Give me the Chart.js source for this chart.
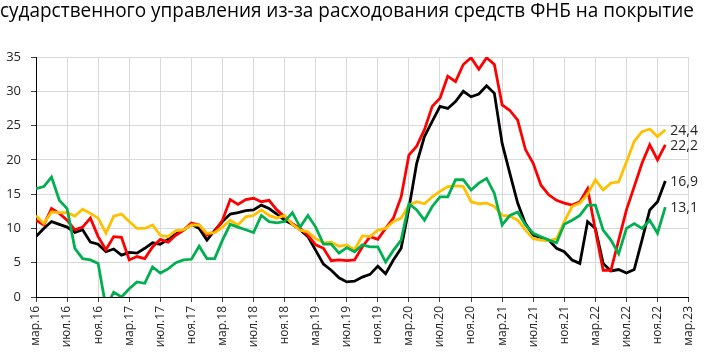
<!DOCTYPE html>
<html>
<head>
<meta charset="utf-8">
<script src="https://cdn.jsdelivr.net/npm/chart.js@4"></script>
<style>
  body { margin: 0; background: #fff; }
  #wrap { width: 707px; height: 353px; position: relative; }
</style>
</head>
<body>
<div id="wrap"><canvas id="chart"></canvas></div>
<script>
// months from мар.16 (index 0) to мар.23 (index 84), axis labels every 4 months
const tickLabels = ['мар.16', 'июл.16', 'ноя.16', 'мар.17', 'июл.17', 'ноя.17', 'мар.18', 'июл.18',
  'ноя.18', 'мар.19', 'июл.19', 'ноя.19', 'мар.20', 'июл.20', 'ноя.20', 'мар.21', 'июл.21',
  'ноя.21', 'мар.22', 'июл.22', 'ноя.22', 'мар.23'];

// monthly values, мар.16 .. дек.22
const blackSeries = [8.8, 10.0, 11.0, 10.6, 10.2, 9.4, 9.8, 8.0, 7.7, 6.6,
  7.0, 6.1, 6.5, 6.4, 7.1, 7.9, 7.7, 8.4, 9.2, 9.75,
  10.6, 10.0, 8.3, 9.7, 11.0, 12.1, 12.3, 12.6, 12.7, 13.4,
  12.9, 12.1, 11.2, 10.6, 9.8, 8.8, 6.8, 4.8, 3.9, 2.8,
  2.2, 2.3, 2.9, 3.3, 4.5, 3.4, 5.4, 7.1, 12.9, 19.5,
  23.4, 25.6, 27.8, 27.5, 28.5, 30.0, 29.2, 29.6, 30.8, 29.7,
  22.4, 18.0, 13.7, 10.7, 9.0, 8.7, 8.3, 7.1, 6.6, 5.4,
  4.9, 11.0, 10.0, 4.9, 3.8, 4.0, 3.5, 4.0, 8.3, 12.7,
  13.9, 16.9];
const redSeries = [11.2, 10.5, 12.9, 12.2, 11.2, 9.8, 10.2, 11.5, 8.8, 6.9,
  8.8, 8.7, 5.4, 5.9, 5.6, 7.3, 8.4, 8.0, 9.0, 9.75,
  10.8, 10.5, 9.0, 9.5, 11.2, 14.2, 13.5, 14.2, 14.4, 13.9,
  14.1, 12.7, 11.7, 10.7, 10.0, 9.0, 7.6, 7.1, 5.3, 5.4,
  5.3, 5.4, 7.3, 8.8, 8.4, 10.0, 11.5, 14.6, 20.7, 22.0,
  24.4, 27.8, 29.0, 32.2, 31.4, 33.9, 34.9, 33.2, 34.9, 33.9,
  28.0, 27.2, 25.8, 21.5, 19.5, 16.3, 14.9, 14.1, 13.7, 13.4,
  13.9, 15.8, 9.75, 3.9, 3.9, 8.3, 12.7, 16.1, 19.5, 22.2,
  20.0, 22.2];
const yellowSeries = [11.9, 10.7, 12.4, 12.3, 12.3, 11.8, 12.8, 12.2, 11.5, 9.3,
  11.8, 12.1, 11.0, 10.0, 10.0, 10.5, 9.0, 8.8, 9.7, 9.8,
  10.5, 10.5, 9.3, 9.4, 10.2, 11.2, 10.5, 11.7, 11.9, 12.7,
  11.9, 11.5, 11.9, 10.6, 9.75, 9.5, 8.5, 7.9, 8.0, 7.4,
  7.6, 6.9, 8.9, 8.8, 9.75, 10.0, 11.0, 11.5, 13.4, 13.9,
  13.6, 14.6, 15.4, 16.1, 16.2, 16.1, 13.9, 13.6, 13.7, 13.2,
  11.9, 11.8, 11.2, 9.75, 8.5, 8.3, 8.2, 8.5, 11.0, 13.2,
  13.7, 15.0, 17.1, 15.6, 16.6, 16.8, 19.7, 22.7, 24.1, 24.5,
  23.4, 24.4];
const greenSeries = [15.8, 16.1, 17.5, 14.1, 12.9, 7.1, 5.6, 5.4, 4.9, -1.5,
  0.7, 0.0, 1.2, 2.2, 2.0, 4.4, 3.5, 4.1, 5.0, 5.4,
  5.5, 7.4, 5.6, 5.6, 8.3, 10.6, 10.2, 9.8, 9.4, 11.9,
  11.0, 10.8, 11.0, 12.3, 10.2, 11.9, 10.2, 7.7, 7.7, 6.4,
  7.2, 6.6, 7.6, 7.3, 7.3, 5.1, 6.8, 8.3, 13.6, 12.7,
  11.2, 13.2, 14.6, 14.6, 17.1, 17.1, 15.6, 16.6, 17.3, 15.1,
  10.5, 11.9, 12.4, 10.5, 9.3, 8.8, 8.3, 7.9, 10.6, 11.2,
  11.9, 13.4, 13.4, 9.75, 8.3, 6.3, 10.0, 10.7, 10.0, 11.2,
  9.3, 13.1];

const titleText = 'сударственного управления из-за расходования средств ФНБ на покрытие';

function toPoints(arr) {
  return arr.map((v, i) => ({ x: i, y: v }));
}

function line(data, color, order) {
  return {
    data: toPoints(data),
    borderColor: color,
    backgroundColor: color,
    borderWidth: 2.8,
    pointRadius: 0,
    tension: 0,
    order: order
  };
}

// value labels at the end of each line
const endLabels = {
  id: 'endLabels',
  afterDatasetsDraw(chart) {
    const ctx = chart.ctx;
    ctx.save();
    ctx.font = '14px "Open Sans"';
    ctx.fillStyle = '#262626';
    ctx.textBaseline = 'middle';
    chart.data.datasets.forEach((ds, i) => {
      const meta = chart.getDatasetMeta(i);
      const pt = meta.data[meta.data.length - 1];
      const v = ds.data[ds.data.length - 1].y;
      ctx.fillText(v.toFixed(1).replace('.', ','), pt.x + 5, pt.y + 1);
    });
    ctx.restore();
  }
};

new Chart(document.getElementById('chart'), {
  type: 'line',
  data: {
    datasets: [
      line(blackSeries, '#000000', 3),
      line(redSeries, '#ff0000', 2),
      line(yellowSeries, '#ffc000', 1),
      line(greenSeries, '#00b050', 0)
    ]
  },
  options: {
    responsive: true,
    maintainAspectRatio: false,
    animation: false,
    layout: { padding: { left: 0, right: 13, top: 0, bottom: 0 } },
    plugins: {
      legend: { display: false },
      tooltip: { enabled: false },
      title: {
        display: true,
        text: titleText,
        align: 'start',
        color: '#000',
        font: { family: 'Open Sans', size: 19.5, weight: 'normal', lineHeight: 1.2 },
        padding: { top: 0, bottom: 33.6 }
      }
    },
    scales: {
      x: {
        type: 'linear',
        min: 0,
        max: 84,
        afterFit(scale) { scale.height = 56; },
        grid: { color: '#d9d9d9', tickColor: '#404040', tickLength: 5 },
        border: { color: '#000', width: 1 },
        ticks: {
          stepSize: 4,
          maxTicksLimit: 30,
          autoSkip: false,
          minRotation: 90,
          maxRotation: 90,
          padding: 4,
          color: '#262626',
          font: { family: 'Open Sans', size: 12 },
          callback: (value) => tickLabels[value / 4]
        }
      },
      y: {
        min: 0,
        max: 35,
        afterFit(scale) { scale.width = 36; },
        grid: { color: '#d9d9d9', tickColor: '#404040', tickLength: 5 },
        border: { color: '#000', width: 1 },
        ticks: {
          stepSize: 5,
          padding: 10,
          color: '#262626',
          font: { family: 'Open Sans', size: 13 }
        }
      }
    }
  },
  plugins: [endLabels]
});
</script>
</body>
</html>
